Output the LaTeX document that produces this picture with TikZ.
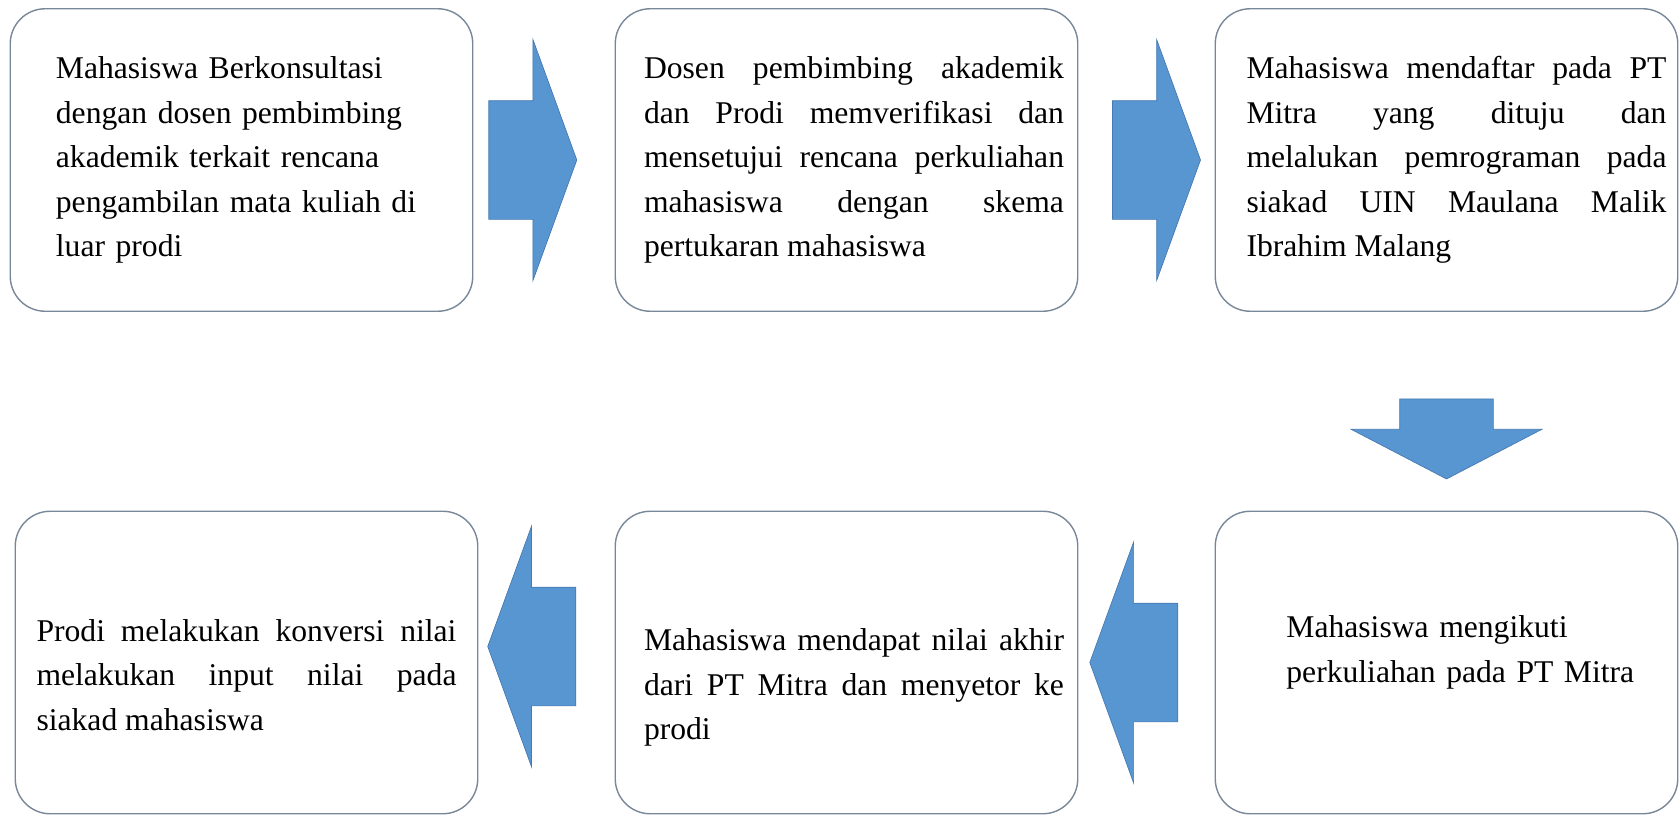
\documentclass[tikz,border=0pt]{standalone}
\usepackage{fontspec}
\setmainfont{Liberation Serif}
\usepackage{tikz}
\usetikzlibrary{shapes,arrows,positioning,calc}
\tolerance=9999
\hyphenpenalty=10000
\definecolor{boxline}{RGB}{120,136,152}
\definecolor{flowblue}{RGB}{88,150,210}
\definecolor{flowedge}{RGB}{70,122,178}
\tikzstyle{block} = [rectangle, rounded corners=0.7cm, draw=boxline, line width=0.8pt, minimum width=9.25cm, minimum height=6.05cm]
\tikzstyle{para} = [text width=8.4cm, align=justify, inner sep=0pt, font=\fontsize{18}{25.3}\selectfont]
\tikzstyle{raggedpara} = [para, align=left, anchor=west]
\tikzstyle{bigarrow} = [single arrow, draw=flowedge, fill=flowblue, line width=0.4pt, inner xsep=0pt, inner ysep=1.18cm, minimum height=1.76cm, minimum width=4.8cm, single arrow head extend=1.22cm, single arrow tip angle=140, single arrow head indent=0pt]

\begin{document}
\begin{tikzpicture}[node distance=12cm]
    \useasboundingbox (0,0) rectangle (33.6,-16.3);

    % the six steps
    \node [block] (konsul) at (4.83,-3.2) {};
    \node [block, right of=konsul, node distance=12.1cm] (verif) {};
    \node [block, right of=verif] (daftar) {};
    \node [block, below of=daftar, node distance=10.05cm] (kuliah) {};
    \node [block, left of=kuliah] (nilai) {};
    \node [block, left of=nilai] (konversi) {};

    \node [raggedpara, text width=7.4cm] (konsultxt) at ([xshift=0.92cm]konsul.west)
        {Mahasiswa Berkonsultasi\\ dengan dosen pembimbing\\ akademik terkait rencana\\ pengambilan mata kuliah di\\ luar prodi};
    \node [para] (veriftxt) at ([xshift=0.15cm]verif.center)
        {Dosen pembimbing akademik\linebreak dan Prodi memverifikasi dan\linebreak mensetujui rencana perkuliahan\linebreak mahasiswa dengan skema\linebreak pertukaran mahasiswa};
    \node [para] (daftartxt) at ([xshift=0.2cm]daftar.center)
        {Mahasiswa mendaftar pada PT\linebreak Mitra yang dituju dan\linebreak melalukan pemrograman pada\linebreak siakad UIN Maulana Malik\linebreak Ibrahim Malang};
    \node [raggedpara, text width=7.4cm] (kuliahtxt) at ([xshift=1.43cm, yshift=0.2cm]kuliah.west)
        {Mahasiswa mengikuti\\ perkuliahan pada PT Mitra};
    \node [para] (nilaitxt) at ([xshift=0.15cm, yshift=-0.5cm]nilai.center)
        {Mahasiswa mendapat nilai akhir\linebreak dari PT Mitra dan menyetor ke\linebreak prodi};
    \node [para] (konversitxt) at ([yshift=-0.25cm]konversi.center)
        {Prodi melakukan konversi nilai\linebreak melakukan input nilai pada\linebreak siakad mahasiswa};

    % block arrows between the steps
    \node [bigarrow] (ar1) at ($(konsul.east)!0.344!(verif.west)$) {};
    \node [bigarrow] (ar2) at ($(verif.east)!0.494!(daftar.west)$) {};
    \node [bigarrow, rotate=-90, inner ysep=0.93cm, minimum height=1.6cm, minimum width=3.8cm,
           single arrow head extend=0.97cm, single arrow tip angle=125] (ar3) at ($(daftar.south)!0.578!(kuliah.north)$) {};
    \node [bigarrow, rotate=180] (ar4) at ($(kuliah.west)!0.514!(nilai.east)$) {};
    \node [bigarrow, rotate=180] (ar5) at ($(nilai.west)!0.529!(konversi.east)+(0,0.32)$) {};
\end{tikzpicture}
\end{document}
